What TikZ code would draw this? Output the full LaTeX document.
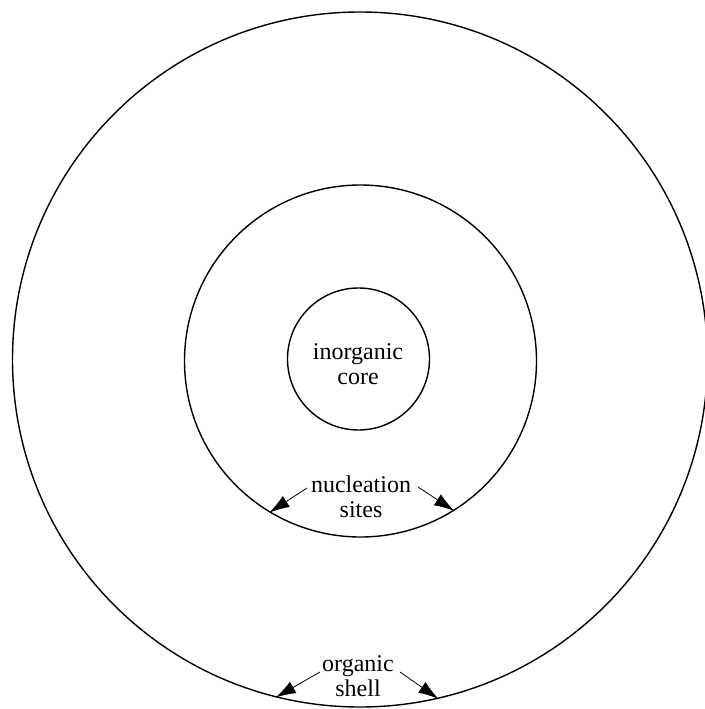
\documentclass[tikz,border=0pt]{standalone}
\usepackage{fontspec}
\setmainfont{Liberation Serif}
\usetikzlibrary{arrows.meta}
\begin{document}
\begin{tikzpicture}[x=1pt,y=-1pt,
  ring/.style={circle,draw,line width=1.4pt,inner sep=0pt},
  lbl/.style={align=center,font=\fontsize{24}{25}\selectfont,inner sep=0pt},
  ptr/.style={line width=0.8pt,-{Latex[length=20pt,width=13pt]}}]
\useasboundingbox (0,0) rectangle (704,709);
\node[ring,minimum size=695pt] (outer) at (360,359.5) {};
\node[ring,minimum size=352pt] (mid) at (360.5,361) {};
\node[ring,minimum size=142pt] (core) at (358.5,359) {};
\node[lbl] (coretxt) at (358,364) {inorganic\\core};
\node[lbl] (nuc) at (361,497) {nucleation\\sites};
\node[lbl] (org) at (358,676) {organic\\shell};
\coordinate (n1) at (307,488);
\coordinate (n2) at (418,487);
\coordinate (o1) at (320,672);
\coordinate (o2) at (400,672);
\draw[ptr] (n1) -- (mid.239);
\draw[ptr] (n2) -- (mid.302.5);
\draw[ptr] (o1) -- (outer.256.2);
\draw[ptr] (o2) -- (outer.283.8);
\end{tikzpicture}
\end{document}
